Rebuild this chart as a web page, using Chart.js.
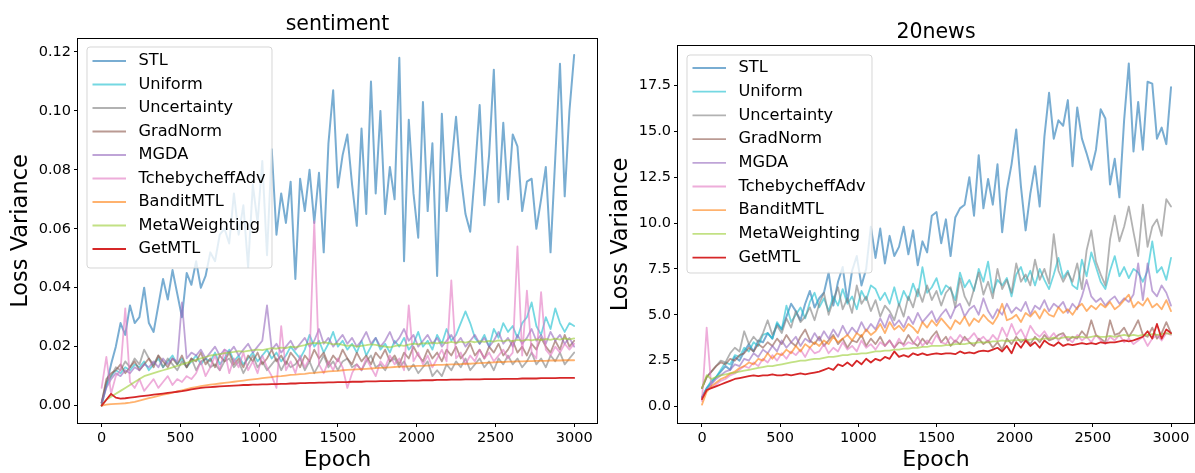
<!DOCTYPE html>
<html><head><meta charset="utf-8">
<script src="https://cdn.jsdelivr.net/npm/chart.js@4.4.1/dist/chart.umd.min.js"></script>
<style>
html,body{margin:0;padding:0;background:#fff;overflow:hidden}
#w{position:relative;width:1195px;height:473px}
.c{position:absolute;top:0;height:473px}
</style></head><body>
<div id="w">
<div class="c" style="left:0;width:600px"><canvas id="c1"></canvas></div>
<div class="c" style="left:600px;width:595px"><canvas id="c2"></canvas></div>
</div>
<script>
// ---------- data ----------
const epochs = [
0,30,60,90,120,150,180,210,240,270,
300,330,360,390,420,450,480,510,540,570,
600,630,660,690,720,750,780,810,840,870,
900,930,960,990,1020,1050,1080,1110,1140,1170,
1200,1230,1260,1290,1320,1350,1380,1410,1440,1470,
1500,1530,1560,1590,1620,1650,1680,1710,1740,1770,
1800,1830,1860,1890,1920,1950,1980,2010,2040,2070,
2100,2130,2160,2190,2220,2250,2280,2310,2340,2370,
2400,2430,2460,2490,2520,2550,2580,2610,2640,2670,
2700,2730,2760,2790,2820,2850,2880,2910,2940,2970,
3000];
const methodNames = ["STL","Uniform","Uncertainty","GradNorm","MGDA","TchebycheffAdv","BanditMTL","MetaWeighting","GetMTL"];
const epochTicks = [0,500,1000,1500,2000,2500,3000];
const sentimentYTicks = [0,0.02,0.04,0.06,0.08,0.10,0.12];
const newsYTicks = [0,2.5,5,7.5,10,12.5,15,17.5];

// sentiment
const sentiment_STL = [
0.000,0.007,0.014,0.020,0.028,0.024,0.034,0.028,0.030,0.040,
0.028,0.025,0.034,0.043,0.036,0.046,0.038,0.030,0.045,0.041,
0.049,0.040,0.044,0.052,0.049,0.058,0.060,0.055,0.072,0.058,
0.068,0.047,0.075,0.062,0.083,0.051,0.087,0.058,0.072,0.062,
0.076,0.043,0.077,0.066,0.080,0.062,0.079,0.052,0.089,0.107,
0.074,0.085,0.092,0.075,0.061,0.094,0.065,0.110,0.072,0.100,
0.065,0.081,0.070,0.118,0.049,0.097,0.072,0.057,0.103,0.066,
0.089,0.044,0.099,0.066,0.081,0.098,0.078,0.065,0.059,0.079,
0.102,0.068,0.085,0.114,0.069,0.096,0.070,0.092,0.088,0.066,
0.076,0.077,0.060,0.070,0.081,0.052,0.084,0.116,0.071,0.100,
0.119];
const sentiment_Uniform = [
0.001,0.007,0.010,0.012,0.011,0.013,0.012,0.014,0.013,0.015,
0.012,0.014,0.016,0.013,0.015,0.017,0.014,0.016,0.013,0.015,
0.017,0.014,0.016,0.015,0.018,0.014,0.016,0.019,0.015,0.017,
0.014,0.016,0.018,0.015,0.017,0.019,0.016,0.018,0.015,0.017,
0.020,0.018,0.016,0.019,0.024,0.020,0.022,0.018,0.021,0.025,
0.020,0.022,0.019,0.021,0.018,0.022,0.017,0.020,0.023,0.019,
0.021,0.018,0.022,0.020,0.023,0.019,0.021,0.025,0.020,0.022,
0.019,0.024,0.021,0.026,0.022,0.024,0.028,0.032,0.028,0.023,
0.021,0.024,0.020,0.026,0.023,0.028,0.025,0.027,0.023,0.028,
0.030,0.035,0.027,0.024,0.030,0.026,0.033,0.028,0.025,0.028,
0.027];
const sentiment_Uncertainty = [
0.001,0.008,0.010,0.013,0.012,0.015,0.013,0.016,0.014,0.019,
0.016,0.014,0.017,0.013,0.016,0.014,0.012,0.015,0.013,0.016,
0.012,0.015,0.016,0.013,0.014,0.012,0.015,0.016,0.013,0.015,
0.011,0.014,0.017,0.013,0.015,0.012,0.014,0.016,0.012,0.015,
0.013,0.014,0.016,0.012,0.015,0.011,0.014,0.017,0.013,0.015,
0.012,0.015,0.016,0.013,0.014,0.012,0.015,0.017,0.013,0.014,
0.012,0.015,0.016,0.013,0.015,0.012,0.014,0.011,0.013,0.015,
0.010,0.012,0.010,0.014,0.012,0.015,0.013,0.016,0.012,0.014,
0.016,0.013,0.015,0.012,0.016,0.014,0.017,0.014,0.016,0.013,
0.015,0.018,0.014,0.016,0.013,0.017,0.015,0.018,0.014,0.016,
0.018];
const sentiment_GradNorm = [
0.001,0.009,0.011,0.012,0.014,0.011,0.013,0.015,0.012,0.014,
0.016,0.013,0.017,0.015,0.013,0.016,0.014,0.017,0.013,0.016,
0.015,0.018,0.014,0.016,0.013,0.017,0.015,0.018,0.014,0.016,
0.013,0.017,0.015,0.018,0.014,0.016,0.019,0.015,0.017,0.014,
0.018,0.016,0.013,0.017,0.015,0.019,0.016,0.018,0.014,0.017,
0.015,0.019,0.016,0.014,0.018,0.015,0.017,0.014,0.018,0.016,
0.019,0.015,0.017,0.014,0.018,0.016,0.020,0.017,0.015,0.019,
0.016,0.018,0.015,0.019,0.017,0.020,0.016,0.018,0.021,0.017,
0.019,0.016,0.020,0.018,0.021,0.017,0.019,0.022,0.018,0.020,
0.017,0.021,0.019,0.023,0.020,0.018,0.022,0.019,0.024,0.020,
0.022];
const sentiment_MGDA = [
0.001,0.006,0.009,0.011,0.010,0.012,0.011,0.013,0.012,0.014,
0.013,0.015,0.013,0.016,0.014,0.016,0.015,0.035,0.016,0.018,
0.017,0.019,0.016,0.018,0.020,0.017,0.019,0.018,0.020,0.017,
0.019,0.021,0.018,0.020,0.022,0.034,0.019,0.021,0.018,0.020,
0.022,0.019,0.021,0.023,0.020,0.022,0.026,0.021,0.023,0.020,
0.022,0.024,0.021,0.023,0.020,0.022,0.025,0.021,0.023,0.020,
0.022,0.025,0.021,0.023,0.026,0.022,0.024,0.020,0.022,0.024,
0.021,0.023,0.020,0.022,0.024,0.021,0.023,0.020,0.022,0.024,
0.021,0.023,0.020,0.022,0.025,0.021,0.023,0.020,0.024,0.021,
0.023,0.026,0.022,0.024,0.021,0.025,0.022,0.024,0.021,0.023,
0.020];
const sentiment_TchebycheffAdv = [
0.006,0.0165,0.004,0.010,0.012,0.033,0.008,0.006,0.009,0.005,
0.007,0.009,0.006,0.008,0.010,0.007,0.009,0.008,0.010,0.009,
0.011,0.015,0.010,0.013,0.017,0.012,0.019,0.011,0.016,0.013,
0.018,0.012,0.015,0.011,0.017,0.013,0.010,0.006,0.027,0.012,
0.015,0.011,0.017,0.013,0.016,0.0625,0.014,0.011,0.015,0.012,
0.016,0.013,0.006,0.011,0.014,0.012,0.016,0.013,0.010,0.015,
0.013,0.017,0.014,0.016,0.012,0.034,0.015,0.018,0.014,0.017,
0.013,0.016,0.019,0.015,0.0425,0.016,0.018,0.014,0.017,0.015,
0.019,0.016,0.018,0.015,0.017,0.019,0.016,0.018,0.054,0.017,
0.039,0.018,0.016,0.0385,0.019,0.017,0.020,0.018,0.021,0.019,
0.021];
const sentiment_BanditMTL = [
0.0000,0.0003,0.0005,0.0006,0.0007,0.0008,0.0010,0.0013,0.0017,0.0021,
0.0025,0.0029,0.0033,0.0037,0.0040,0.0044,0.0048,0.0052,0.0056,0.0060,
0.0063,0.0066,0.0069,0.0071,0.0073,0.0075,0.0077,0.0079,0.0081,0.0083,
0.0085,0.0087,0.0089,0.0091,0.0093,0.0095,0.0097,0.0099,0.0100,0.0102,
0.0104,0.0105,0.0107,0.0108,0.0110,0.0111,0.0113,0.0114,0.0116,0.0117,
0.0118,0.0120,0.0121,0.0122,0.0123,0.0124,0.0125,0.0126,0.0127,0.0128,
0.0129,0.0130,0.0131,0.0132,0.0132,0.0133,0.0134,0.0135,0.0135,0.0136,
0.0137,0.0138,0.0138,0.0139,0.0140,0.0140,0.0141,0.0142,0.0142,0.0143,
0.0144,0.0145,0.0146,0.0147,0.0148,0.0148,0.0149,0.0149,0.0150,0.0150,
0.0151,0.0151,0.0152,0.0152,0.0152,0.0153,0.0153,0.0153,0.0154,0.0154,
0.0154];
const sentiment_MetaWeighting = [
0.000,0.002,0.003,0.004,0.005,0.006,0.007,0.008,0.009,0.010,
0.0105,0.011,0.0115,0.012,0.0125,0.013,0.0135,0.014,0.0145,0.015,
0.0155,0.016,0.0165,0.017,0.0172,0.0175,0.0178,0.018,0.0182,0.0185,
0.0183,0.0186,0.0188,0.019,0.0188,0.0192,0.0195,0.0193,0.0197,0.0195,
0.020,0.0198,0.0202,0.0205,0.021,0.0213,0.021,0.0215,0.0212,0.0208,
0.021,0.0206,0.0203,0.0205,0.020,0.0203,0.0205,0.0208,0.0206,0.0203,
0.020,0.0198,0.0202,0.0205,0.0203,0.0207,0.021,0.0208,0.0212,0.021,
0.0214,0.0211,0.0215,0.0212,0.0216,0.0213,0.0217,0.0214,0.0218,0.0215,
0.0219,0.0216,0.022,0.0217,0.0221,0.0218,0.0222,0.0219,0.0223,0.022,
0.0224,0.0221,0.0225,0.0222,0.0226,0.0223,0.0227,0.0224,0.0228,0.0225,
0.0228];
const sentiment_GetMTL = [
0.0000,0.0020,0.0040,0.0027,0.0024,0.0025,0.0027,0.0029,0.0031,0.0033,
0.0035,0.0037,0.0039,0.0041,0.0043,0.0045,0.0047,0.0049,0.0052,0.0055,
0.0058,0.0060,0.0062,0.0063,0.0064,0.0065,0.0066,0.0067,0.0068,0.0069,
0.0070,0.0070,0.0071,0.0071,0.0072,0.0072,0.0073,0.0073,0.0074,0.0074,
0.0075,0.0075,0.0076,0.0076,0.0077,0.0077,0.0078,0.0078,0.0079,0.0079,
0.0080,0.0080,0.0080,0.0081,0.0081,0.0081,0.0082,0.0082,0.0082,0.0083,
0.0083,0.0083,0.0084,0.0084,0.0084,0.0085,0.0085,0.0085,0.0086,0.0086,
0.0086,0.0087,0.0087,0.0087,0.0088,0.0088,0.0088,0.0089,0.0089,0.0089,
0.0089,0.0090,0.0090,0.0090,0.0090,0.0091,0.0091,0.0091,0.0091,0.0092,
0.0092,0.0092,0.0092,0.0093,0.0093,0.0093,0.0093,0.0094,0.0094,0.0094,
0.0094];

// 20news
const news_STL = [
0.5,1.0,1.3,1.6,1.9,2.2,2.0,2.7,2.5,3.0,
3.4,3.0,3.6,3.5,4.0,3.7,4.5,4.2,4.9,5.6,
5.2,4.7,5.6,6.3,5.4,5.9,6.2,7.3,5.5,6.8,
7.6,5.7,7.4,8.2,6.6,7.5,9.8,8.1,9.7,7.8,
9.3,8.2,8.7,9.8,8.3,9.6,7.7,9.0,8.4,10.4,
10.6,8.9,10.2,8.2,10.3,10.8,11.0,12.5,10.4,13.7,
10.8,12.4,11.0,13.2,9.5,11.8,13.2,15.1,12.0,9.6,
11.6,13.1,10.9,14.7,17.1,14.6,15.6,15.3,16.7,13.1,
16.3,14.6,13.8,12.9,14.0,16.2,15.7,12.1,13.5,11.4,
15.6,18.7,13.9,16.6,14.0,17.7,17.6,14.6,15.2,14.3,
17.4];
const news_Uniform = [
0.5,1.0,1.4,1.6,2.0,2.4,2.3,2.8,2.7,3.2,
3.0,3.5,3.3,3.9,4.0,3.7,4.6,4.2,5.5,4.6,
5.0,5.4,4.8,5.7,6.2,5.4,5.9,5.2,6.0,5.5,
6.4,5.6,6.0,5.3,6.3,5.8,6.6,6.4,5.8,6.2,
5.6,6.5,5.5,6.3,5.8,6.7,6.0,7.6,6.2,6.5,
7.0,6.1,6.6,6.4,5.8,7.3,6.5,6.9,6.3,7.5,
6.8,7.9,6.2,6.9,6.6,7.0,6.0,7.2,7.6,6.8,
7.4,6.6,7.5,6.9,6.4,7.2,8.1,7.0,7.4,6.6,
6.4,8.0,7.1,8.4,7.6,6.8,6.4,7.4,8.2,7.1,
7.6,7.0,7.5,7.3,6.8,7.4,9.0,7.3,7.6,6.9,
8.1];
const news_Uncertainty = [
1.0,1.6,1.9,2.2,2.5,2.4,2.9,3.2,3.0,4.1,
3.4,3.8,3.5,4.0,4.7,3.9,4.4,4.0,4.8,4.3,
5.2,4.6,4.9,5.4,4.7,5.6,6.2,5.0,5.8,6.5,
5.3,5.9,5.1,6.6,5.6,6.0,5.2,5.8,4.9,5.5,
5.2,4.7,5.6,4.9,6.0,5.4,6.4,5.7,6.6,5.8,
6.3,5.5,6.2,6.5,5.4,7.0,6.0,5.5,6.4,7.3,
6.1,6.8,5.9,7.5,6.4,6.9,6.2,7.8,6.8,7.2,
6.6,8.0,6.9,7.5,6.7,9.4,7.4,6.8,7.3,6.8,
7.8,6.4,8.5,9.6,7.9,7.2,6.6,9.1,10.4,9.0,
9.8,10.9,9.5,8.2,11.0,8.7,9.8,10.2,9.3,11.3,
10.9];
const news_GradNorm = [
1.0,1.6,1.9,2.2,2.4,2.3,2.6,2.5,2.8,2.9,
3.2,3.0,3.4,3.2,3.5,3.3,3.7,3.4,3.9,3.5,
3.3,3.8,4.2,3.6,3.4,3.8,3.3,3.6,3.9,3.4,
3.7,3.2,3.6,3.5,3.9,3.3,3.7,3.4,3.8,3.3,
3.6,3.2,3.5,3.4,3.9,3.5,3.3,3.7,3.4,3.8,
4.1,3.5,3.8,3.3,3.6,3.4,3.8,3.5,3.3,3.7,
3.4,3.6,3.2,3.5,3.1,3.7,3.4,3.8,3.5,3.7,
3.4,3.8,3.5,3.9,3.6,3.7,3.9,4.0,3.6,3.8,
3.7,4.1,3.8,4.7,3.9,3.7,3.5,4.7,3.9,4.0,
4.3,3.8,4.2,4.7,3.9,3.8,4.3,3.7,4.0,4.6,
4.0];
const news_MGDA = [
0.5,0.9,1.2,1.5,1.7,1.9,2.0,2.3,2.2,2.6,
2.5,2.9,2.7,3.1,2.9,3.3,3.0,3.6,3.2,3.5,
3.8,3.3,3.7,3.5,4.0,3.6,4.1,3.7,4.2,3.8,
4.4,3.9,4.3,4.0,4.6,4.1,4.5,4.2,4.8,4.3,
5.0,4.4,4.7,4.3,4.9,4.5,5.1,4.6,4.9,5.2,
4.6,5.0,5.3,4.8,5.4,5.6,4.9,5.3,5.5,5.0,
5.9,5.2,4.8,5.3,5.0,5.6,5.1,5.4,5.2,5.7,
5.0,5.5,5.3,5.8,5.2,5.6,5.4,5.7,5.1,5.6,
5.3,6.0,6.9,6.0,5.7,5.9,5.5,5.8,6.0,5.6,
5.9,5.7,6.1,7.8,5.8,7.8,6.3,6.0,6.6,6.2,
5.5];
const news_TchebycheffAdv = [
0.3,4.3,1.0,1.2,1.4,1.5,1.7,1.8,2.0,2.2,
2.1,2.4,2.2,2.6,2.4,2.8,2.5,2.9,2.6,3.0,
2.8,3.1,2.7,3.2,2.9,3.0,3.4,2.9,3.2,3.0,
3.5,3.1,3.3,3.0,3.6,3.2,3.4,3.1,3.5,3.3,
3.6,3.2,3.7,3.3,3.5,3.4,3.8,3.3,3.6,3.4,
3.9,3.5,3.4,3.8,3.5,3.9,3.6,3.7,4.0,3.6,
3.8,3.5,3.9,3.6,4.3,3.8,4.5,3.9,4.2,3.7,
4.4,4.0,3.8,4.1,3.7,4.0,3.6,3.9,3.7,3.5,
3.9,3.6,3.8,3.5,3.9,3.6,3.4,3.8,3.6,3.9,
3.5,3.7,3.4,3.6,3.8,3.3,3.7,3.9,3.6,4.0,
3.9];
const news_BanditMTL = [
0.1,0.8,1.1,1.3,1.5,1.6,1.8,1.9,2.1,2.2,
2.4,2.3,2.6,2.5,2.9,2.6,2.9,2.8,3.1,2.9,
3.3,3.0,3.4,3.2,3.5,3.3,3.6,3.4,3.8,3.5,
3.7,3.9,3.6,4.0,3.8,4.2,3.9,4.1,4.5,4.0,
4.6,4.2,4.4,4.1,4.5,4.3,4.0,4.6,4.3,4.7,
4.4,4.8,4.5,4.2,4.7,4.5,4.9,4.4,4.8,4.6,
5.0,4.7,4.5,4.9,5.6,4.7,4.8,5.0,4.6,5.1,
4.9,5.2,4.8,5.3,5.0,4.9,5.4,5.1,5.3,5.0,
5.4,5.6,5.2,5.5,5.3,5.6,5.4,5.7,5.3,5.5,
5.8,6.1,5.4,5.7,5.5,5.9,5.4,5.6,5.3,5.8,
5.2];
const news_MetaWeighting = [
1.0,1.7,1.5,1.6,1.7,1.75,1.8,1.85,1.9,1.95,
2.0,2.05,2.1,2.15,2.2,2.2,2.25,2.3,2.35,2.4,
2.45,2.5,2.5,2.55,2.6,2.6,2.65,2.7,2.7,2.75,
2.8,2.8,2.85,2.85,2.9,2.9,2.95,3.0,3.0,3.05,
3.05,3.1,3.1,3.15,3.15,3.2,3.2,3.25,3.25,3.3,
3.3,3.3,3.35,3.35,3.4,3.4,3.4,3.45,3.45,3.5,
3.5,3.5,3.55,3.55,3.6,3.55,3.6,3.6,3.65,3.6,
3.65,3.7,3.65,3.7,3.7,3.75,3.7,3.75,3.8,3.75,
3.8,3.8,3.75,3.8,3.85,3.8,3.8,3.85,3.8,3.85,
3.9,3.85,3.9,3.85,3.9,3.9,3.95,3.9,3.95,4.0,
3.95];
const news_GetMTL = [
0.4,0.9,1.0,1.1,1.2,1.3,1.4,1.5,1.55,1.6,
1.65,1.7,1.65,1.7,1.7,1.75,1.7,1.7,1.75,1.7,
1.75,1.8,1.75,1.8,1.85,1.9,2.0,2.1,2.0,2.3,
2.2,2.4,2.2,2.5,2.3,2.6,2.4,2.6,2.5,2.7,
2.6,3.0,2.7,2.8,2.7,2.9,2.8,2.9,2.8,2.85,
2.9,2.85,2.9,2.9,2.85,3.0,2.9,2.95,2.9,3.0,
3.05,3.0,3.1,3.2,3.0,3.3,2.9,3.5,3.2,3.6,
3.3,3.5,3.2,3.6,3.4,3.3,3.5,3.3,3.4,3.35,
3.4,3.45,3.4,3.45,3.4,3.5,3.45,3.5,3.5,3.55,
3.6,3.55,3.6,3.7,3.8,4.1,3.7,4.5,3.7,4.2,
4.0];

// ---------- styles ----------
const methodColors = [
 "rgba(31,119,180,0.6)","rgba(23,190,207,0.6)","rgba(127,127,127,0.6)",
 "rgba(140,86,75,0.6)","rgba(148,103,189,0.6)","rgba(227,119,194,0.6)",
 "rgba(255,127,14,0.6)","rgba(154,205,50,0.6)","rgb(214,39,40)"];
const methodWidths = [2,1.8,1.8,1.8,1.8,1.8,1.8,1.8,1.8];
const FONT = "'DejaVu Sans', sans-serif";

Chart.defaults.font.family = FONT;
Chart.defaults.color = '#000';

const framePlugin = {
  id: 'frame',
  afterDraw(chart) {
    const {ctx, chartArea: a} = chart;
    ctx.save();
    ctx.strokeStyle = '#000';
    ctx.lineWidth = 1;
    ctx.strokeRect(Math.round(a.left) - 0.5, Math.round(a.top) - 0.5,
                   Math.round(a.right - a.left) + 1, Math.round(a.bottom - a.top) + 1);
    ctx.restore();
  }
};

const boxLegendPlugin = {
  id: 'boxLegend',
  afterDatasetsDraw(chart, args, o) {
    const {ctx, chartArea: a} = chart;
    const x = a.left + o.dx, y = a.top + o.dy, w = o.w, h = o.h, r = 3;
    ctx.save();
    ctx.beginPath();
    ctx.moveTo(x + r, y);
    ctx.arcTo(x + w, y, x + w, y + h, r);
    ctx.arcTo(x + w, y + h, x, y + h, r);
    ctx.arcTo(x, y + h, x, y, r);
    ctx.arcTo(x, y, x + w, y, r);
    ctx.closePath();
    ctx.fillStyle = 'rgba(255,255,255,0.8)';
    ctx.fill();
    ctx.strokeStyle = 'rgba(204,204,204,0.8)';
    ctx.lineWidth = 1;
    ctx.stroke();
    ctx.font = o.fontSize + 'px ' + FONT;
    ctx.textBaseline = 'middle';
    ctx.textAlign = 'left';
    chart.data.datasets.forEach((ds, k) => {
      const cy = y + o.first + k * o.step;
      ctx.beginPath();
      ctx.moveTo(x + 5.5, cy);
      ctx.lineTo(x + 39, cy);
      ctx.strokeStyle = ds.borderColor;
      ctx.lineWidth = ds.borderWidth;
      ctx.stroke();
      ctx.fillStyle = '#000';
      ctx.fillText(ds.label, x + 51.5, cy);
    });
    ctx.restore();
  }
};

function build(id, cfg) {
  const datasets = cfg.series.map((vals, k) => ({
    label: methodNames[k],
    data: vals.map((v, j) => ({x: epochs[j], y: v})),
    borderColor: methodColors[k],
    borderWidth: methodWidths[k],
    pointRadius: 0,
    fill: false,
    tension: 0,
    borderJoinStyle: 'round',
    borderCapStyle: 'round',
    order: cfg.series.length - k
  }));
  const tickGrid = {display: true, drawOnChartArea: false, drawTicks: true, tickLength: 4, color: '#000', lineWidth: 1};
  return new Chart(document.getElementById(id), {
    type: 'line',
    data: {datasets},
    plugins: [boxLegendPlugin, framePlugin],
    options: {
      responsive: true,
      maintainAspectRatio: false,
      animation: false,
      devicePixelRatio: 1,
      layout: {padding: {left: 0, right: cfg.padRight, top: 0, bottom: 0}},
      plugins: {
        legend: {display: false},
        tooltip: {enabled: false},
        title: {display: true, text: cfg.title, fullSize: false, color: '#000',
                font: {size: 20.5, weight: 'normal', lineHeight: 1.2},
                padding: {top: cfg.titlePadTop, bottom: cfg.titlePadBottom}},
        boxLegend: cfg.legend
      },
      scales: {
        x: {
          type: 'linear', min: cfg.xmin, max: cfg.xmax,
          afterBuildTicks: ax => { ax.ticks = epochTicks.map(v => ({value: v})); },
          afterFit: ax => { ax.height = 50; },
          grid: tickGrid,
          border: {display: false},
          ticks: {font: {size: 14.5}, color: '#000', padding: 3, maxRotation: 0, autoSkip: false,
                  callback: v => String(v)},
          title: {display: true, text: 'Epoch', color: '#000',
                  font: {size: 22, lineHeight: 1.15}, padding: {top: 0, bottom: 0}}
        },
        y: {
          type: 'linear', min: cfg.ymin, max: cfg.ymax,
          afterBuildTicks: ax => { ax.ticks = cfg.yTicks.map(v => ({value: v})); },
          afterFit: ax => { ax.width = 78; },
          grid: tickGrid,
          border: {display: false},
          ticks: {font: {size: 14.5}, color: '#000', padding: 3, autoSkip: false,
                  callback: v => Number(v).toFixed(cfg.yDigits)},
          title: {display: true, text: 'Loss Variance', color: '#000',
                  font: {size: 22.5, lineHeight: 1.15}, padding: {top: 8.5, bottom: 0}}
        }
      }
    }
  });
}

build('c1', {
  title: 'sentiment',
  series: [sentiment_STL, sentiment_Uniform, sentiment_Uncertainty, sentiment_GradNorm, sentiment_MGDA,
           sentiment_TchebycheffAdv, sentiment_BanditMTL, sentiment_MetaWeighting, sentiment_GetMTL],
  yTicks: sentimentYTicks, yDigits: 2,
  xmin: -150, xmax: 3145, ymin: -0.0059, ymax: 0.1244,
  padRight: 3, titlePadTop: 12.3, titlePadBottom: 2.1,
  legend: {dx: 9, dy: 8, w: 185, h: 221, first: 14, step: 23.5, fontSize: 16.2}
});
build('c2', {
  title: '20news',
  series: [news_STL, news_Uniform, news_Uncertainty, news_GradNorm, news_MGDA,
           news_TchebycheffAdv, news_BanditMTL, news_MetaWeighting, news_GetMTL],
  yTicks: newsYTicks, yDigits: 1,
  xmin: -153.5, xmax: 3147, ymin: -0.9, ymax: 19.65,
  padRight: 1, titlePadTop: 19.9, titlePadBottom: 1.5,
  legend: {dx: 9, dy: 9, w: 185, h: 218, first: 13, step: 23.7, fontSize: 16.2}
});
</script>
</body></html>
